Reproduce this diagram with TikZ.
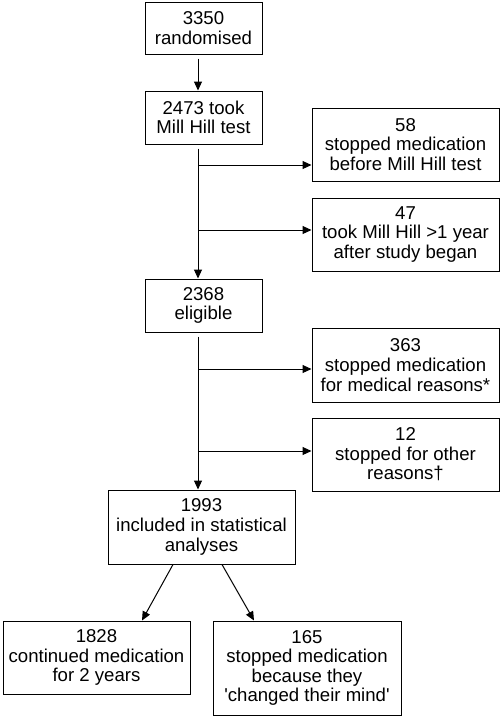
\documentclass[tikz,border=0pt]{standalone}
\usepackage{fontspec}
\setmainfont{Liberation Sans}
\usetikzlibrary{arrows.meta,positioning,calc}

\begin{document}
\begin{tikzpicture}[x=1pt,y=-1pt,line width=1pt,
                    every node/.append style={font=\fontsize{18.6}{19.6}\selectfont,
                    align=center,inner sep=0pt},
                    narrowbox/.style={draw,minimum width=117pt,minimum height=#1},
                    widebox/.style={draw,minimum width=187pt,minimum height=#1},
                    flow/.style={-{Triangle[length=9pt,width=8pt]}}]
    \useasboundingbox (0,0) rectangle (502,718);
    % main column
    \node[narrowbox=52pt] (rand) at (203.5,28)  {3350\\randomised};
    \node[narrowbox=53pt] (took) at (203.5,117.5) {2473 took\\Mill Hill test};
    \node[narrowbox=53pt] (elig) at (203.5,305.5) {2368\\eligible};
    \node[widebox=74pt]   (incl) at (201.5,527) {1993\\included in statistical\\analyses};
    % exclusions
    \node[widebox=73pt] (stopbefore) at (405.5,144.5) {58\\stopped medication\\before Mill Hill test};
    \node[widebox=73pt] (late)       at (405.5,234.5) {47\\took Mill Hill >1 year\\after study began};
    \node[widebox=74pt] (medical)    at (405.5,365)   {363\\stopped medication\\for medical reasons*};
    \node[widebox=73pt] (other)      at (405.5,454.5) {12\\stopped for other\\reasons\textdagger};
    % outcome
    \node[widebox=73pt] (cont) at (96.5,657.5) {1828\\continued medication\\for 2 years};
    \node[draw,minimum width=188pt,minimum height=94pt] (mind) at (307,668)
        {165\\stopped medication\\because they\\\textquotesingle changed their mind\textquotesingle};

    \coordinate (j1) at (198,165);
    \coordinate (j2) at (198,230);
    \coordinate (j3) at (198,369);
    \coordinate (j4) at (198,451);

    \draw[flow,shorten <=4pt] (rand.south -| j1) -- (took.north -| j1);
    \draw[flow,shorten <=4pt] (took.south -| j1) -- (elig.north -| j1);
    \draw[flow,shorten <=4pt] (elig.south -| j3) -- (incl.north -| j3);
    \draw[flow] (j1) -- (j1 -| stopbefore.west);
    \draw[flow] (j2) -- (j2 -| late.west);
    \draw[flow] (j3) -- (j3 -| medical.west);
    \draw[flow] (j4) -- (j4 -| other.west);
    \draw[flow] ([xshift=-28.5pt]incl.south) -- ([xshift=45.5pt]cont.north);
    \draw[flow] ([xshift=20.5pt]incl.south) -- ([xshift=-53pt]mind.north);
\end{tikzpicture}
\end{document}
